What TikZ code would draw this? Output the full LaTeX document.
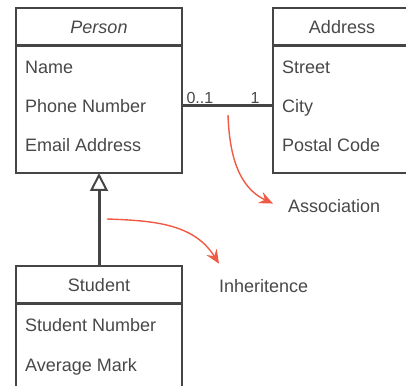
\documentclass[tikz,border=0pt]{standalone}
\usepackage{fontspec}
\setmainfont{Liberation Sans}
\usetikzlibrary{positioning,arrows.meta}

\definecolor{umlLine}{HTML}{454545}
\definecolor{umlText}{HTML}{484848}
\definecolor{umlNote}{HTML}{F05A44}

\tikzset{
  classhead/.style={draw=umlLine, line width=2pt, text=umlText, anchor=north west,
    minimum width=166pt, minimum height=38pt, inner sep=0pt, outer sep=0pt},
  classbody/.style={draw=umlLine, line width=2pt, anchor=north,
    minimum width=166pt, inner sep=0pt, outer sep=0pt},
  attr/.style={anchor=base west, inner sep=0pt, text=umlText},
  mult/.style={inner sep=0pt, text=umlText, font=\fontsize{16}{18}\selectfont},
  pointer/.style={umlNote, line width=1.4pt, -{Stealth[length=14pt,width=12pt,inset=5pt]}},
}

\begin{document}
\begin{tikzpicture}[x=1pt, y=1pt, font=\fontsize{18}{21}\selectfont]
        \useasboundingbox (0,0) rectangle (406,385);
        \clip (0,0) rectangle (406,385);

        \node[classhead] (person) at (16,377) {\textit{Person}};
        \node[classbody, minimum height=127pt, below=0pt of person.south] (personbody) {};
        \node[classhead, minimum width=138pt] (address) at (273,377) {Address};
        \node[classbody, minimum width=138pt, minimum height=127pt, below=0pt of address.south] (addressbody) {};
        \node[classhead] (student) at (16,119) {Student};
        \node[classbody, minimum height=127pt, below=0pt of student.south] (studentbody) {};
        \foreach \c in {person, address, student}
          \draw[umlLine, line width=3pt] (\c.south west) -- (\c.south east);

        \foreach \txt [count=\i] in {Name, Phone Number, Email Address}
          \node[attr] (person-\i) at (25,350-39*\i) {\txt};
        \foreach \txt [count=\i] in {Street, City, Postal Code}
          \node[attr] (address-\i) at (282,350-39*\i) {\txt};
        \foreach \txt [count=\i] in {Student Number, Average Mark}
          \node[attr] (student-\i) at (25,92-39*\i) {\txt};

        \draw[umlLine, line width=3pt] ([yshift=4pt]personbody.east) -- ([yshift=4pt]addressbody.west)
              node[mult, at start, anchor=base west, xshift=3pt, yshift=1.5pt] (lower) {0..1}
              node[mult, at end, anchor=base east, xshift=-12pt, yshift=1.5pt] (upper) {1};
        \draw[umlLine, line width=3pt,
              -{Triangle[open, fill=white, line width=2pt, length=18pt, width=18pt]}]
              (student.north) -- (personbody.south);

        \node[attr] (assoc) at (288,172) {Association};
        \node[attr] (inherit) at (219,92) {Inheritence};
        \coordinate (assocfrom) at (228,270);
        \coordinate (inheritfrom) at (107,166);
        \draw[pointer] (assocfrom) to[out=-88, in=155] ([xshift=-15pt, yshift=3pt]assoc.west);
        \draw[pointer] (inheritfrom) to[out=-2, in=122] ([yshift=16pt]inherit.north west);
      \end{tikzpicture}
\end{document}
